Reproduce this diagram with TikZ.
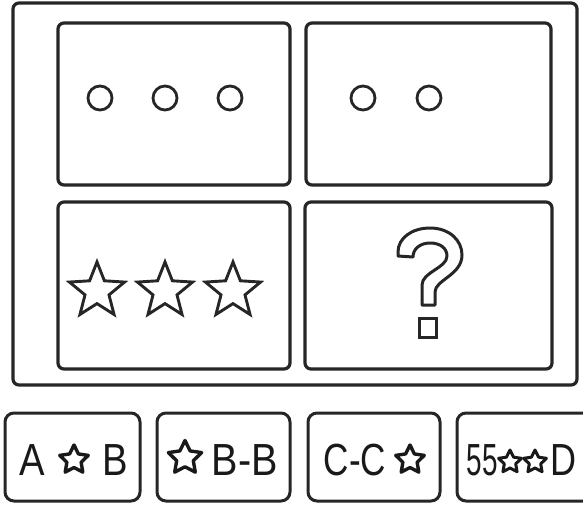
\documentclass[tikz,border=0pt]{standalone}
\usepackage{fontspec}
\usepackage{graphicx}
\setmainfont{Liberation Sans}
\usetikzlibrary{shapes.geometric}

\begin{document}
\begin{tikzpicture}[
            x=1pt, y=-1pt,
            frame/.style={draw=black!85, line width=3.2pt, rounded corners=6pt},
            choice/.style={draw=black!85, line width=3pt, rounded corners=9pt},
            ring/.style={draw=black!85, circle, line width=2.8pt, minimum size=24pt, inner sep=0pt},
            bigstar/.style={draw=black!85, star, star points=5, star point ratio=2.3, line width=2.9pt, minimum size=58pt, inner sep=0pt},
            tinystar/.style={draw=black!90, star, star points=5, star point ratio=2.0, line width=3.4pt, line join=round, inner sep=0pt},
            optext/.style={font=\fontsize{45}{45}\selectfont, text=black!90, inner sep=0pt, anchor=base}
        ]
        \useasboundingbox (0,0) rectangle (583,504);
        % outer frame and the four panels
        \draw[frame] (13,3) rectangle (577,385);
        \draw[frame] (58,23) rectangle (290,185);
        \draw[frame] (306,23) rectangle (551,185);
        \draw[frame] (58,202) rectangle (290,369);
        \draw[frame] (305,202) rectangle (552,369);
        % circles
        \foreach \cx/\nm in {100/c1, 165/c2, 230/c3, 363/c4, 429/c5}
            \node[ring] (\nm) at (\cx,98) {};
        % stars
        \foreach \cx/\nm in {97/s1, 165/s2, 233/s3}
            \node[bigstar] (\nm) at (\cx,291) {};
        % question mark
        \draw[draw=black!85, line width=3pt, line join=round]
            (422,305) -- (422,285) .. controls (422,272) and (447,268) .. (447,256)
            .. controls (447,248) and (440,243) .. (430,243)
            .. controls (420,243) and (413,249) .. (413,257) -- (398,256) -- (398,252)
            .. controls (398,238) and (412,228) .. (430,228)
            .. controls (449,228) and (462,240) .. (462,255)
            .. controls (462,275) and (435,280) .. (435,292) -- (435,305) -- cycle;
        \draw[draw=black!85, line width=3pt] (419,318) rectangle (436,337);
        % answer choices
        \draw[choice] (5,413) rectangle (140,501);
        \draw[choice] (157,413) rectangle (290,501);
        \draw[choice] (308,413) rectangle (440,501);
        \draw[choice] (457,413) rectangle (620,501);
        \node[optext] (a1) at (32,475) {\scalebox{0.85}[1]{A}};
        \node[tinystar, minimum size=30pt] (a2) at (74,460) {};
        \node[optext] (a3) at (115,475) {\scalebox{0.85}[1]{B}};
        \node[tinystar, minimum size=35pt] (b1) at (185,458) {};
        \node[optext] (b2) at (245,475) {\scalebox{0.88}[1]{B-B}};
        \node[optext] (c1) at (355,475) {\scalebox{0.78}[1]{C-C}};
        \node[tinystar, minimum size=30pt] (c2) at (410,460) {};
        \node[optext] (d1) at (482,475) {\scalebox{0.62}[1]{55}};
        \node[tinystar, minimum size=24pt, line width=3pt] (d2) at (510,462) {};
        \node[tinystar, minimum size=24pt, line width=3pt] (d3) at (535,462) {};
        \node[optext, anchor=base west] (d4) at (550,475) {\scalebox{0.8}[1]{D}};
    \end{tikzpicture}
\end{document}
